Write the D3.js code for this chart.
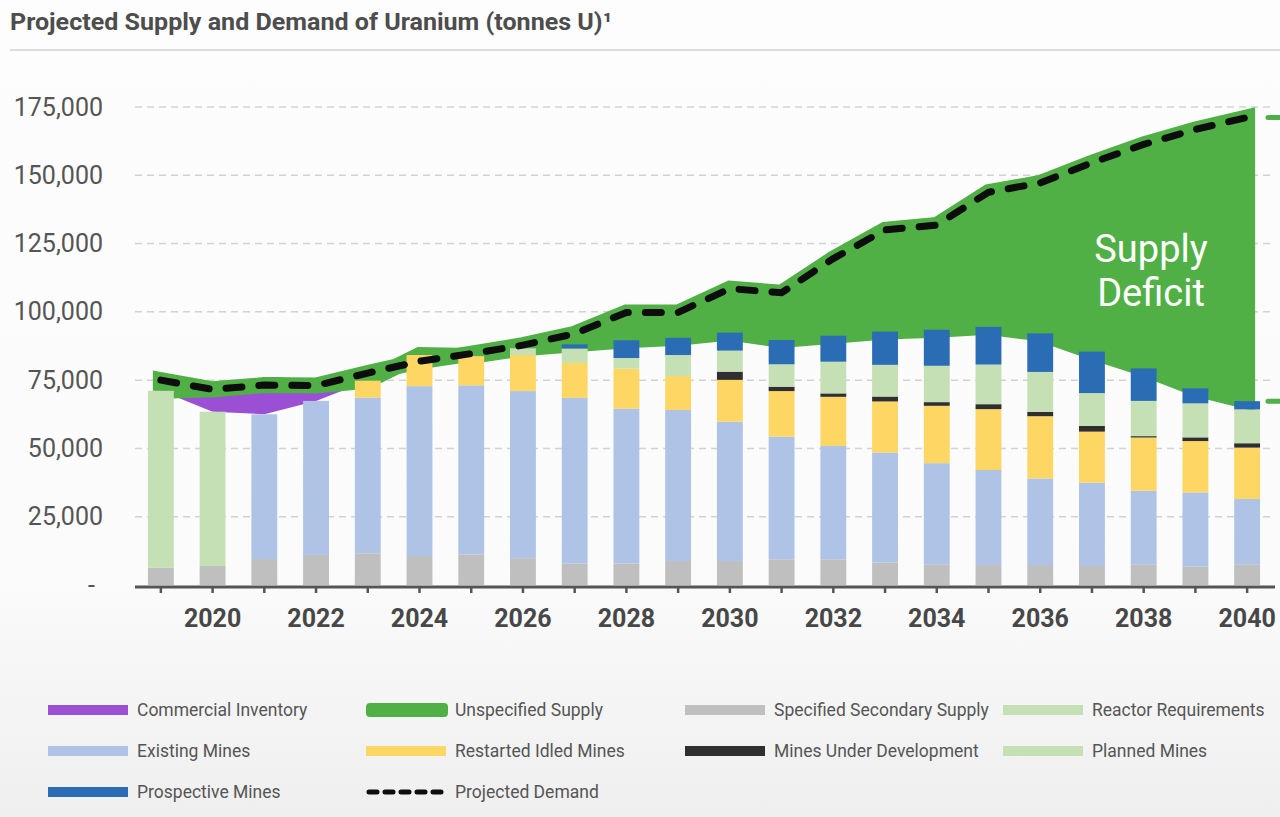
<!DOCTYPE html>
<html>
<head>
<meta charset="utf-8">
<script src="https://cdn.jsdelivr.net/npm/d3@7"></script>
<style>
  body { margin: 0; background: #fff; }
  text { font-family: Roboto, "Noto Sans", sans-serif; }
</style>
</head>
<body>
<svg id="chart"></svg>
<script>
// values (tonnes U)
const years = [2019, 2020, 2021, 2022, 2023, 2024, 2025, 2026, 2027, 2028, 2029,
  2030, 2031, 2032, 2033, 2034, 2035, 2036, 2037, 2038, 2039, 2040];
const secondarySupply = [6300, 6950, 9500, 11000, 11600, 10600, 11200, 9800, 7900, 7900, 8800,
  8800, 9400, 9400, 8200, 7600, 7300, 7300, 6950, 7600, 6700, 7600];
const existingMines = [0, 0, 53000, 56400, 57000, 62200, 61900, 61200, 60600, 56700, 55300,
  51000, 44900, 41500, 40300, 37000, 34800, 31700, 30500, 26900, 27200, 23900];
const reactorRequirements = [64800, 56500, 0, 0, 0, 0, 0, 0, 0, 0, 0,
  0, 0, 0, 0, 0, 0, 0, 0, 0, 0, 0];
const restartedMines = [0, 0, 0, 0, 6200, 11400, 10700, 13200, 12800, 14600, 12400,
  15300, 16700, 18000, 18700, 21000, 22300, 22800, 18700, 19500, 18800, 18800];
const minesUnderDev = [0, 0, 0, 0, 0, 0, 0, 0, 0, 0, 0,
  3000, 1600, 1250, 1800, 1350, 1800, 1600, 2100, 500, 1350, 1600];
const plannedMines = [0, 0, 0, 0, 0, 0, 0, 2450, 5300, 3900, 7700,
  7700, 8200, 11600, 11600, 13300, 14500, 14600, 12000, 12900, 12450, 12400];
const prospectiveMines = [0, 0, 0, 0, 0, 0, 0, 0, 1500, 6500, 6300,
  6600, 8900, 9500, 12200, 13200, 13800, 14100, 15200, 11900, 5500, 3000];
const commercialInventory = [0, 8200, 10700, 5600, 0, 0, 0, 0, 0, 0, 0,
  0, 0, 0, 0, 0, 0, 0, 0, 0, 0, 0];
const projectedDemand = [75000, 71600, 73200, 73000, 77600, 81900, 84700, 87800, 92000, 99800, 99800,
  108500, 107000, 119500, 130000, 131800, 143800, 147200, 154600, 161300, 166800, 171200];
const yTicks = [0, 25000, 50000, 75000, 100000, 125000, 150000, 175000];

const width = 1280;
const height = 817;

const colors = {
  secondary: "#bfbfbf",
  existing: "#aec3e6",
  reactor: "#c5e0b4",
  restarted: "#fdd663",
  underDev: "#2f2f2f",
  planned: "#c5e0b4",
  prospective: "#2a6db5",
  inventory: "#9a4fd4",
  unspecified: "#50b045"
};

const svg = d3.select("#chart")
  .attr("width", width)
  .attr("height", height);

// background, fading to light grey at the bottom
const defs = svg.append("defs");
const grad = defs.append("linearGradient")
  .attr("id", "bg").attr("x1", 0).attr("y1", 0).attr("x2", 0).attr("y2", 1);
grad.append("stop").attr("offset", "0%").attr("stop-color", "#fdfdfd");
grad.append("stop").attr("offset", "70%").attr("stop-color", "#fbfbfb");
grad.append("stop").attr("offset", "100%").attr("stop-color", "#efefef");
svg.append("rect").attr("width", width).attr("height", height).attr("fill", "url(#bg)");

// title (original font is condensed, so squeeze to its width)
svg.append("text")
  .attr("x", 10)
  .attr("y", 30)
  .attr("font-size", 24)
  .attr("font-weight", 700)
  .attr("fill", "#4d4d4d")
  .attr("textLength", 602)
  .attr("lengthAdjust", "spacingAndGlyphs")
  .text("Projected Supply and Demand of Uranium (tonnes U)¹");

svg.append("line")
  .attr("x1", 10).attr("x2", width)
  .attr("y1", 50).attr("y2", 50)
  .attr("stroke", "#dcdcdc")
  .attr("stroke-width", 2);

// table for stacking
const rows = years.map((year, i) => ({
  year,
  secondary: secondarySupply[i],
  existing: existingMines[i],
  reactor: reactorRequirements[i],
  restarted: restartedMines[i],
  underDev: minesUnderDev[i],
  planned: plannedMines[i],
  prospective: prospectiveMines[i],
  inventory: commercialInventory[i],
  demand: projectedDemand[i]
}));
const barKeys = ["secondary", "existing", "reactor", "restarted", "underDev", "planned", "prospective"];
rows.forEach(d => { d.supply = d3.sum(barKeys, k => d[k]); });

// scales
const x = d3.scaleBand()
  .domain(years)
  .range([135, 1273])
  .paddingInner(0.5)
  .paddingOuter(0.25);

const y = d3.scaleLinear()
  .domain([0, 175000])
  .range([585, 107]);

const cx = d => x(d.year) + x.bandwidth() / 2;

// grid lines
svg.append("g")
  .selectAll("line")
  .data(yTicks.filter(v => v > 0))
  .enter()
  .append("line")
  .attr("x1", 135).attr("x2", 1275)
  .attr("y1", d => y(d)).attr("y2", d => y(d))
  .attr("stroke", "#d2d2d2")
  .attr("stroke-width", 1.5)
  .attr("stroke-dasharray", "7 5");

// y axis labels
const yAxisG = svg.append("g")
  .attr("transform", "translate(103,0)")
  .call(d3.axisLeft(y).tickValues(yTicks).tickSize(0).tickPadding(0)
    .tickFormat(d => d === 0 ? "-" : d3.format(",")(d)));
yAxisG.select(".domain").remove();
yAxisG.selectAll("text")
  .attr("font-family", "Roboto, sans-serif")
  .attr("font-size", 25)
  .attr("fill", "#555")
  .attr("dx", d => d === 0 ? -8 : 0);

// commercial inventory (purple) sits on top of the bars
const invRows = rows.filter((d, i) => i <= 4);
svg.append("path")
  .datum(invRows)
  .attr("fill", colors.inventory)
  .attr("d", d3.area()
    .x(cx)
    .y0(d => y(d.supply))
    .y1(d => y(d.supply + d.inventory)));

// unspecified supply (green) between supply and demand
svg.append("path")
  .datum(rows)
  .attr("fill", colors.unspecified)
  .attr("stroke", colors.unspecified)
  .attr("stroke-width", 16)
  .attr("stroke-linejoin", "miter")
  .attr("stroke-miterlimit", 2)
  .attr("d", d3.area()
    .x(cx)
    .y0(d => y(d.supply + d.inventory))
    .y1(d => y(d.demand)));

// stacked bars
const stacked = d3.stack().keys(barKeys)(rows);
svg.append("g")
  .selectAll("g")
  .data(stacked)
  .enter()
  .append("g")
  .attr("fill", s => colors[s.key])
  .selectAll("rect")
  .data(s => s.filter(p => p[1] > p[0]))
  .enter()
  .append("rect")
  .attr("x", p => x(p.data.year))
  .attr("width", x.bandwidth())
  .attr("y", p => y(p[1]))
  .attr("height", p => y(p[0]) - y(p[1]));

// x axis
const xAxisG = svg.append("g")
  .attr("transform", "translate(0,587)")
  .call(d3.axisBottom(x).tickSize(6).tickPadding(16)
    .tickFormat(d => d % 2 === 0 ? d : ""));
xAxisG.select(".domain")
  .attr("stroke", "#555")
  .attr("stroke-width", 3)
  .attr("d", "M135,0H1275");
xAxisG.selectAll(".tick line")
  .attr("stroke", "#555")
  .attr("stroke-width", 2.5);
xAxisG.selectAll("text")
  .attr("font-family", "Roboto, sans-serif")
  .attr("font-size", 25)
  .attr("font-weight", 700)
  .attr("fill", "#474747");

// projected demand, dashed
svg.append("path")
  .datum(rows)
  .attr("fill", "none")
  .attr("stroke", "#0d0d0d")
  .attr("stroke-width", 7)
  .attr("stroke-linecap", "round")
  .attr("stroke-dasharray", "16 17")
  .attr("d", d3.line().x(cx).y(d => y(d.demand)));

// supply deficit label
const deficit = svg.append("text")
  .attr("x", 1151)
  .attr("font-size", 38)
  .attr("fill", "#fff")
  .attr("text-anchor", "middle");
deficit.append("tspan").attr("x", 1151).attr("y", 262).text("Supply");
deficit.append("tspan").attr("x", 1151).attr("y", 306).text("Deficit");

// green markers at the right edge for the 2040 gap
const last = rows[rows.length - 1];
svg.append("g")
  .selectAll("line")
  .data([last.demand, last.supply])
  .enter()
  .append("line")
  .attr("x1", 1268).attr("x2", 1282)
  .attr("y1", d => y(d)).attr("y2", d => y(d))
  .attr("stroke", colors.unspecified)
  .attr("stroke-width", 5)
  .attr("stroke-linecap", "round");

// legend
const legendItems = [
  { name: "Commercial Inventory", color: colors.inventory, type: "bar" },
  { name: "Unspecified Supply", color: colors.unspecified, type: "round" },
  { name: "Specified Secondary Supply", color: colors.secondary, type: "bar" },
  { name: "Reactor Requirements", color: colors.reactor, type: "bar" },
  { name: "Existing Mines", color: colors.existing, type: "bar" },
  { name: "Restarted Idled Mines", color: colors.restarted, type: "bar" },
  { name: "Mines Under Development", color: colors.underDev, type: "bar" },
  { name: "Planned Mines", color: colors.planned, type: "bar" },
  { name: "Prospective Mines", color: colors.prospective, type: "bar" },
  { name: "Projected Demand", color: "#0d0d0d", type: "dash" }
];
const legendX = [48, 366, 685, 1003];
const legendY = [710, 751, 792];

const legend = svg.append("g")
  .selectAll("g")
  .data(legendItems)
  .enter()
  .append("g")
  .attr("transform", (d, i) => `translate(${legendX[i % 4]},${legendY[Math.floor(i / 4)]})`);

legend.filter(d => d.type === "bar")
  .append("rect")
  .attr("x", 0).attr("y", -5)
  .attr("width", 80).attr("height", 10)
  .attr("fill", d => d.color);

legend.filter(d => d.type === "round")
  .append("rect")
  .attr("x", 0).attr("y", -7)
  .attr("width", 82).attr("height", 14)
  .attr("rx", 4)
  .attr("fill", d => d.color);

legend.filter(d => d.type === "dash")
  .append("line")
  .attr("x1", 3).attr("x2", 79)
  .attr("stroke", d => d.color)
  .attr("stroke-width", 5)
  .attr("stroke-linecap", "round")
  .attr("stroke-dasharray", "8 8");

legend.append("text")
  .attr("x", 89)
  .attr("dy", "0.35em")
  .attr("font-size", 17.5)
  .attr("fill", "#555")
  .text(d => d.name);
</script>
</body>
</html>
